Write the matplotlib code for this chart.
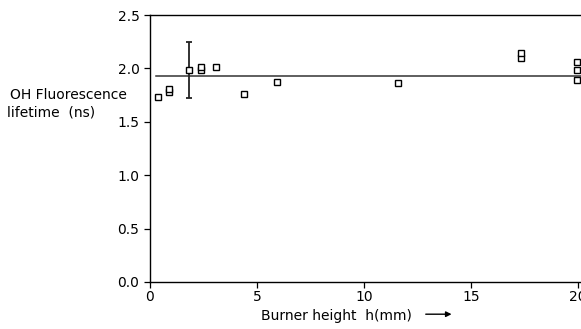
import matplotlib
matplotlib.use("Agg")
import matplotlib.pyplot as plt

plt.rcParams['font.family'] = ['DejaVu Sans']

# Data (burner height in mm, OH fluorescence lifetime in ns)
heights = [0.4, 0.9, 0.9, 1.85, 2.38, 2.38, 3.1, 4.4, 5.95, 11.6, 17.35, 17.35, 19.95, 19.95, 19.95]
lifetimes = [1.735, 1.78, 1.805, 1.985, 1.983, 2.015, 2.018, 1.76, 1.873, 1.866, 2.102, 2.144, 1.896, 1.99, 2.065]
err_x = [1.85]
err_y = [1.985]
err_lo = [0.26]
err_hi = [0.265]
mean_lifetime = 1.934
mean_span = [0.3, 20.3]

xticks = [0, 5, 10, 15, 20]
yticks = [0.0, 0.5, 1.0, 1.5, 2.0, 2.5]

fig = plt.figure(figsize=(5.81, 3.29), dpi=100)
ax = fig.add_axes([0.258, 0.143, 0.742, 0.811])

ax.plot(mean_span, [mean_lifetime, mean_lifetime], color='#333333', lw=1.1, zorder=1)
ax.errorbar(err_x, err_y, yerr=[err_lo, err_hi], fmt='none', ecolor='#222222',
            elinewidth=1.3, capsize=2.5, capthick=1.3, zorder=2)
ax.plot(heights, lifetimes, linestyle='none', marker='s', markersize=4.5,
        markerfacecolor='white', markeredgecolor='black', markeredgewidth=1.0, zorder=3)

ax.set_xlim(0, 20.15)
ax.set_ylim(0, 2.5)
ax.set_xticks(xticks)
ax.set_xticklabels([str(t) for t in xticks])
ax.set_yticks(yticks)
ax.set_yticklabels([f"{t:.1f}" for t in yticks])

for s in ['left', 'bottom', 'top']:
    ax.spines[s].set_linewidth(1.0)
    ax.spines[s].set_color('black')
ax.spines['right'].set_visible(False)
ax.tick_params(direction='out', length=4.5, width=0.9, labelsize=10, pad=3, colors='black')
ax.tick_params(axis='x', pad=1.5)

fig.text(0.017, 0.711, "OH Fluorescence", fontsize=10, ha='left', va='center')
fig.text(0.012, 0.657, "lifetime  (ns)", fontsize=10, ha='left', va='center')

fig.text(0.579, 0.040, "Burner height  h(mm)", fontsize=10, ha='center', va='center')
fig.add_artist(matplotlib.patches.FancyArrowPatch((0.728, 0.045), (0.782, 0.045),
               transform=fig.transFigure, arrowstyle='-|>', mutation_scale=8,
               color='black', lw=1.0))

fig.savefig("out.png", dpi=100)
